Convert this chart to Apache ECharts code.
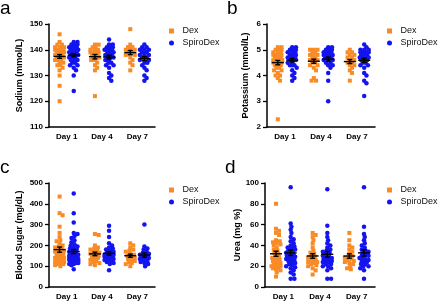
<!DOCTYPE html>
<html>
<head>
<meta charset="utf-8">
<script src="https://cdn.jsdelivr.net/npm/echarts@6/dist/echarts.min.js"></script>
<style>
  html, body { margin: 0; padding: 0; background: #fff; }
  #main { width: 440px; height: 303px; }
</style>
</head>
<body>
<div id="main"></div>
<script>
// categories and groups
var days = ['Day 1', 'Day 4', 'Day 7'];
var groups = ['Dex', 'SpiroDex'];

// values, one list per day
var sodiumDex = [
  [146,143,142,142,141,141,141,141,140,140,140,140,140,139,139,139,139,139,139,138,138,138,138,138,137,137,137,137,136,136,136,135,135,134,134,133,132,130,126,120],
  [142,142,141,141,140,140,140,139,139,139,139,138,138,138,137,137,137,136,136,135,134,133,132,122],
  [148,142,141,141,141,140,140,140,139,139,139,138,138,137,136,135,134,132]
];
var sodiumSpiro = [
  [143,143,142,142,142,141,141,141,141,141,140,140,140,140,140,139,139,139,139,139,138,138,138,138,137,137,137,136,136,136,135,135,134,134,133,132,130,124],
  [144,142,142,141,141,141,140,140,140,140,139,139,139,138,138,138,138,137,137,137,136,136,135,135,134,134,133,131,130,129,128],
  [142,141,141,140,140,140,139,139,139,138,138,138,137,137,137,136,136,135,135,134,133,132,130,129,128]
];
var potassiumDex = [
  [5.1,5.1,5.0,5.0,5.0,4.9,4.9,4.9,4.8,4.8,4.8,4.8,4.7,4.7,4.7,4.7,4.6,4.6,4.6,4.5,4.5,4.5,4.5,4.4,4.4,4.4,4.3,4.3,4.2,4.2,4.1,4.0,4.0,3.9,3.8,2.3],
  [5.0,5.0,5.0,4.9,4.9,4.8,4.8,4.8,4.7,4.7,4.6,4.6,4.6,4.5,4.5,4.4,4.4,4.3,4.2,3.9,3.8,3.8],
  [5.0,4.9,4.9,4.8,4.8,4.7,4.7,4.6,4.6,4.5,4.5,4.4,4.4,4.3,4.2,4.1,3.8]
];
var potassiumSpiro = [
  [5.1,5.1,5.0,5.0,5.0,4.9,4.9,4.9,4.8,4.8,4.8,4.7,4.7,4.7,4.6,4.6,4.6,4.5,4.5,4.4,4.4,4.4,4.3,4.2,4.1,4.0,3.9,3.8],
  [5.1,5.1,5.0,5.0,5.0,4.9,4.9,4.9,4.9,4.8,4.8,4.8,4.8,4.8,4.7,4.7,4.7,4.7,4.7,4.6,4.6,4.6,4.5,4.5,4.4,4.4,4.3,4.1,3.8,3.0],
  [5.2,5.1,5.0,5.0,5.0,4.9,4.9,4.9,4.9,4.8,4.8,4.8,4.8,4.7,4.7,4.7,4.7,4.7,4.6,4.6,4.6,4.5,4.5,4.4,4.4,4.3,4.1,4.0,3.8,3.7,3.2]
];
var sugarDex = [
  [435,355,345,290,260,240,225,220,210,200,195,190,185,180,175,170,165,160,155,150,150,145,140,140,140,135,130,130,130,125,120,120,115,110,110,105,100],
  [255,250,200,190,185,180,175,170,165,160,155,150,145,140,140,135,130,125,120,115,110,105],
  [210,200,190,180,175,170,160,155,150,145,140,135,130,125,120,115,110,100]
];
var sugarSpiro = [
  [450,355,310,260,255,245,235,225,215,205,200,195,190,185,180,175,170,165,160,160,155,155,150,150,150,150,145,145,140,140,140,140,135,135,135,130,130,130,125,125,125,120,120,115,115,110,110,105,85],
  [295,270,240,210,200,190,185,180,175,170,165,160,155,155,150,150,150,145,145,140,140,140,135,130,130,125,120,115,110,80],
  [300,195,185,180,170,165,160,155,150,150,145,140,140,135,130,125,120,115,110,100]
];
var ureaDex = [
  [80,56,54,52,50,45,44,43,42,41,40,38,36,35,33,32,30,29,28,27,26,25,24,23,22,22,21,20,20,19,18,18,17,16,14,10],
  [52,50,48,45,42,38,35,33,32,30,29,28,27,26,26,25,24,24,23,22,21,20,18,16,12],
  [52,45,40,38,36,34,32,30,29,28,27,26,25,24,23,22,20,18,17]
];
var ureaSpiro = [
  [96,61,58,55,52,48,46,44,42,40,39,38,37,36,35,35,34,33,32,31,30,30,29,28,28,27,26,26,25,24,23,22,21,20,19,18,16,14,12,8,8],
  [94,59,52,48,45,42,40,38,36,35,34,33,32,30,30,29,28,28,27,27,26,26,25,25,24,24,22,22,20,20,18,16,8,8],
  [96,58,51,48,45,42,40,38,36,35,34,33,32,30,30,29,28,28,26,26,25,24,24,22,22,20,20,18,16,8]
];

var panels = [
  { letter: 'a', name: 'Sodium (mmol/L)', min: 110, max: 150, interval: 10, dex: sodiumDex, spiro: sodiumSpiro,
    grid: { left: 49, top: 24, width: 106, height: 103 }, nameGap: 25, legend: [169, 26] },
  { letter: 'b', name: 'Potassium (mmol/L)', min: 2, max: 6, interval: 1, dex: potassiumDex, spiro: potassiumSpiro,
    grid: { left: 267, top: 24, width: 108, height: 103 }, nameGap: 17, legend: [387, 26] },
  { letter: 'c', name: 'Blood Sugar (mg/dL)', min: 0, max: 500, interval: 100, dex: sugarDex, spiro: sugarSpiro,
    grid: { left: 49, top: 183, width: 106, height: 104 }, nameGap: 25, legend: [169, 185] },
  { letter: 'd', name: 'Urea (mg %)', min: 0, max: 100, interval: 20, dex: ureaDex, spiro: ureaSpiro,
    grid: { left: 265, top: 183, width: 110, height: 104 }, nameGap: 15, legend: [387, 185] }
];

var colors = { Dex: '#F98B26', SpiroDex: '#1414F0' };
var font = '"Liberation Sans", Arial, sans-serif';

// bounded beeswarm: offsets in pixels (kept within +-maxOff), turned into x-axis units
function swarm(vals, pxY, pxX, d, maxOff) {
  var placed = [];
  var sorted = vals.slice().sort(function (a, b) { return b - a; });
  return sorted.map(function (v) {
    var y = v * pxY, best = 0, bestDist = -1;
    for (var k = 0; k < 40; k++) {
      var c = k === 0 ? 0 : (k % 2 ? 1 : -1) * Math.ceil(k / 2) * 0.75;
      if (Math.abs(c) > maxOff) break;
      var md = Infinity;
      placed.forEach(function (p) { md = Math.min(md, Math.hypot(p.x - c, p.y - y)); });
      if (md >= d) { best = c; bestDist = md; break; }
      if (md > bestDist + 0.3) { bestDist = md; best = c; }
    }
    placed.push({ x: best, y: y });
    return [best / pxX, v];
  });
}

function meanSem(vals) {
  var n = vals.length, m = 0, s = 0;
  vals.forEach(function (v) { m += v; });
  m /= n;
  vals.forEach(function (v) { s += (v - m) * (v - m); });
  return [m, Math.sqrt(s / (n - 1)) / Math.sqrt(n)];
}

function errRender(params, api) {
  var x = api.value(0), m = api.value(1), e = api.value(2);
  var c = api.coord([x, m]), t = api.coord([x, m + e]), b = api.coord([x, m - e]);
  var st = { stroke: '#000', lineWidth: 1.4 };
  return {
    type: 'group',
    children: [
      { type: 'line', shape: { x1: c[0] - 6, y1: c[1], x2: c[0] + 6, y2: c[1] }, style: st },
      { type: 'line', shape: { x1: c[0], y1: t[1], x2: c[0], y2: b[1] }, style: st },
      { type: 'line', shape: { x1: c[0] - 2.5, y1: t[1], x2: c[0] + 2.5, y2: t[1] }, style: st },
      { type: 'line', shape: { x1: c[0] - 2.5, y1: b[1], x2: c[0] + 2.5, y2: b[1] }, style: st }
    ]
  };
}

var option = { animation: false, title: [], grid: [], xAxis: [], yAxis: [], legend: [], series: [] };
var squareIcon = 'path://M0,0L10,0L10,10L0,10Z';
var circleIcon = 'path://M5,0A5,5,0,1,1,5,10A5,5,0,1,1,5,0Z';

panels.forEach(function (p, i) {
  option.title.push({
    text: p.letter, left: p.grid.left - (i % 2 ? 40 : 49), top: p.grid.top - 25, padding: 0,
    textStyle: { fontFamily: font, fontSize: 19, fontWeight: 'normal', color: '#000' }
  });
  option.grid.push(p.grid);
  var axisLine = { show: true, lineStyle: { color: '#000', width: 1.5 } };
  option.xAxis.push({
    type: 'category', gridIndex: i, data: days, boundaryGap: true,
    axisLine: axisLine, axisTick: { alignWithLabel: true, length: 4, lineStyle: { color: '#000', width: 1.3 } },
    axisLabel: { color: '#000', fontFamily: font, fontSize: 8, fontWeight: 'bold', margin: 6 },
    splitLine: { show: false }
  });
  option.xAxis.push({ type: 'value', gridIndex: i, min: 0.5, max: 3.5, show: false });
  option.yAxis.push({
    type: 'value', gridIndex: i, min: p.min, max: p.max, interval: p.interval,
    name: p.name, nameLocation: 'middle', nameGap: p.nameGap,
    nameTextStyle: { color: '#000', fontFamily: font, fontSize: 9, fontWeight: 'bold' },
    axisLine: axisLine, axisTick: { show: true, length: 4, lineStyle: { color: '#000', width: 1.3 } },
    axisLabel: { color: '#000', fontFamily: font, fontSize: 8, fontWeight: 'bold', margin: 6 },
    splitLine: { show: false }
  });
  option.legend.push({
    left: p.legend[0], top: p.legend[1], orient: 'vertical', padding: 0, itemGap: 2,
    itemWidth: 12, itemHeight: 5, selectedMode: false,
    textStyle: { fontFamily: font, fontSize: 9, color: '#111', lineHeight: 10 },
    data: [{ name: 'Dex', icon: squareIcon }, { name: 'SpiroDex', icon: circleIcon }]
  });

  var pxY = p.grid.height / (p.max - p.min);
  var pxX = p.grid.width / 3;
  [['Dex', p.dex, -0.2, 'rect', 4], ['SpiroDex', p.spiro, 0.2, 'circle', 4.5]].forEach(function (g) {
    var pts = [], bars = [];
    g[1].forEach(function (vals, di) {
      swarm(vals, pxY, pxX, 3.2, 4.6).forEach(function (q) { pts.push([di + 1 + g[2] + q[0], q[1]]); });
      var ms = meanSem(vals);
      bars.push([di + 1 + g[2], ms[0], ms[1]]);
    });
    option.series.push({
      type: 'scatter', name: g[0], xAxisIndex: i * 2 + 1, yAxisIndex: i,
      symbol: g[3], symbolSize: g[4], itemStyle: { color: colors[g[0]], opacity: 1 },
      data: pts, z: 2
    });
    option.series.push({
      type: 'custom', name: g[0] + ' mean', xAxisIndex: i * 2 + 1, yAxisIndex: i,
      renderItem: errRender, encode: { x: 0, y: 1 }, data: bars, z: 5, silent: true
    });
  });
});

var myChart = echarts.init(document.getElementById('main'), null, { renderer: 'canvas' });
myChart.setOption(option);
</script>
</body>
</html>
